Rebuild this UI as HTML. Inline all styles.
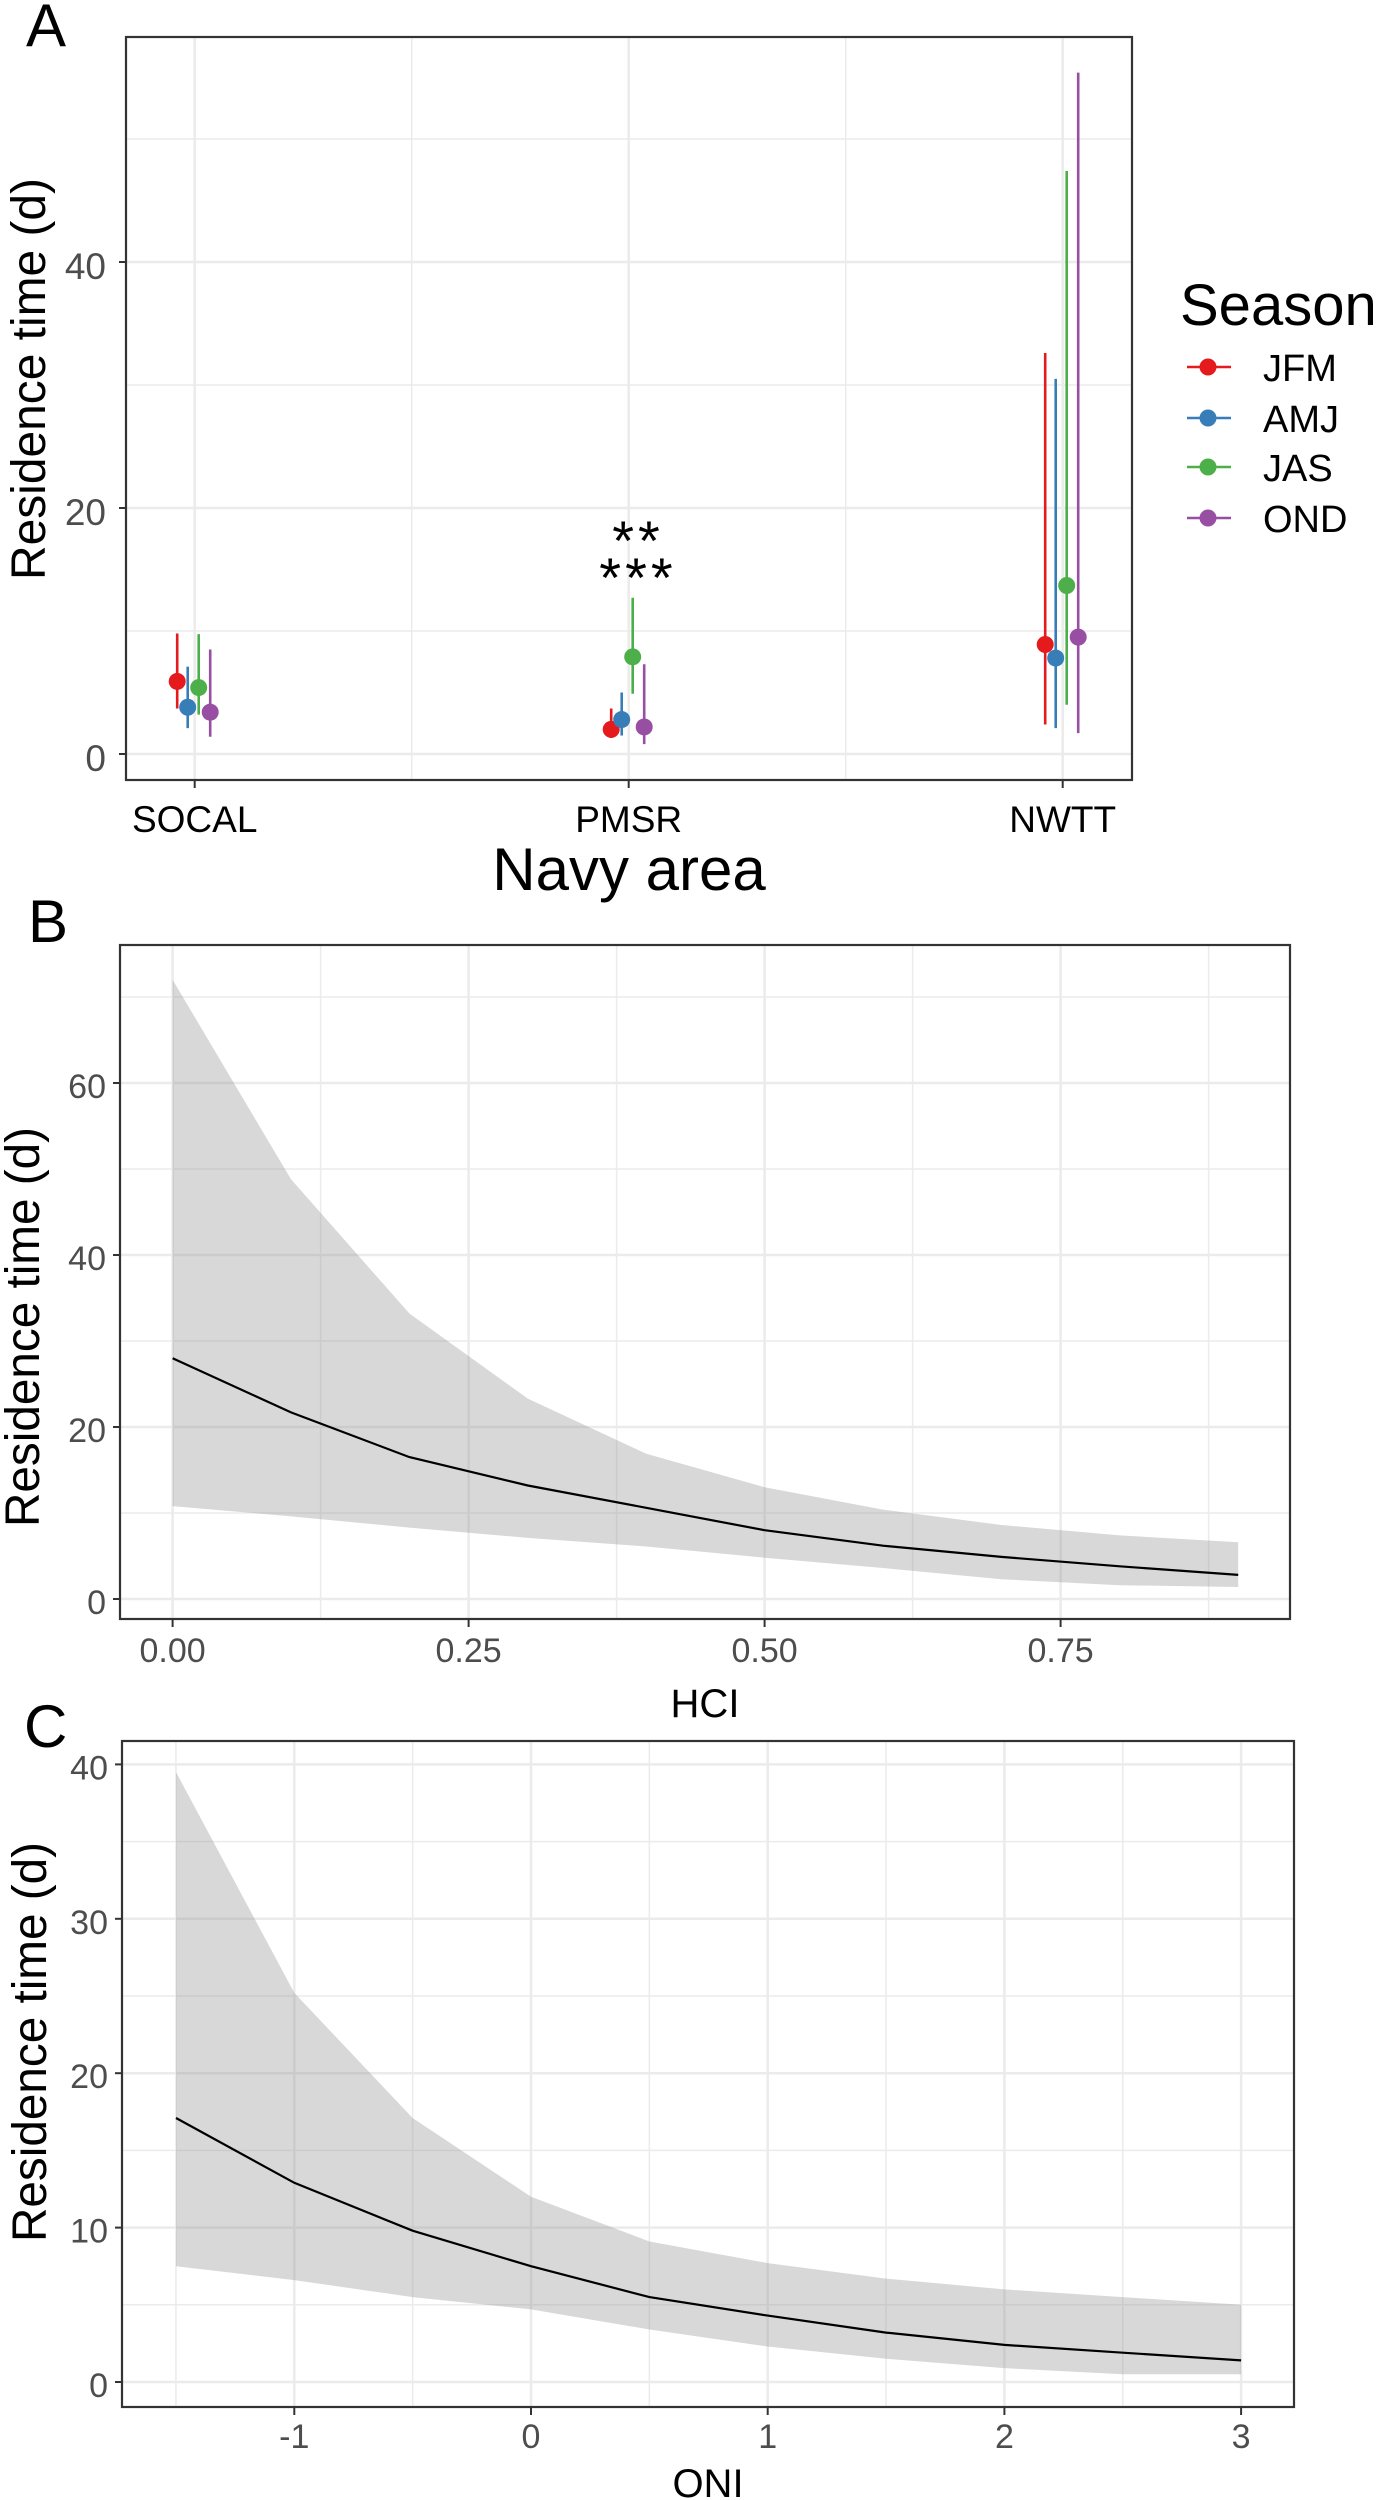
<!DOCTYPE html>
<html><head><meta charset="utf-8"><style>
html,body{margin:0;padding:0;background:#fff;}
svg{display:block;font-family:"Liberation Sans",Arial,sans-serif;}
</style></head><body>
<svg id="fig" width="1395" height="2500" viewBox="0 0 1395 2500" xmlns="http://www.w3.org/2000/svg">
<rect x="0" y="0" width="1395" height="2500" fill="#fff"/>
<g id="pA"></g>
<g id="pB"></g>
<g id="pC"></g>
</svg>
<script>
// ---------- Panel A data ----------
const areas = ["SOCAL", "PMSR", "NWTT"];
const seasons = ["JFM", "AMJ", "JAS", "OND"];
const seasonColors = ["#E41A1C", "#377EB8", "#4DAF4A", "#984EA3"];
const estJFM = [5.9, 2.0, 8.9];
const lowJFM = [3.7, 1.3, 2.4];
const highJFM = [9.8, 3.7, 32.6];
const estAMJ = [3.8, 2.8, 7.8];
const lowAMJ = [2.1, 1.5, 2.1];
const highAMJ = [7.1, 5.0, 30.5];
const estJAS = [5.4, 7.9, 13.7];
const lowJAS = [3.2, 4.9, 4.0];
const highJAS = [9.75, 12.7, 47.4];
const estOND = [3.4, 2.2, 9.5];
const lowOND = [1.4, 0.8, 1.7];
const highOND = [8.5, 7.3, 55.4];
const aTicks = [0, 20, 40];
const aMinor = [10, 30, 50];

// ---------- Panel B data ----------
const hciX = [0, 0.1, 0.2, 0.3, 0.4, 0.5, 0.6, 0.7, 0.8, 0.9];
const hciFit = [28, 21.7, 16.5, 13.2, 10.6, 8.0, 6.2, 4.9, 3.8, 2.8];
const hciUpper = [72, 48.8, 33.2, 23.3, 16.9, 13, 10.4, 8.6, 7.4, 6.6];
const hciLower = [10.8, 9.6, 8.3, 7.1, 6.1, 4.8, 3.6, 2.3, 1.6, 1.4];
const bYTicks = [0, 20, 40, 60];
const bYMinor = [10, 30, 50, 70];
const bXTicks = [0, 0.25, 0.5, 0.75];
const bXTickLabels = ["0.00", "0.25", "0.50", "0.75"];
const bXMinor = [0.125, 0.375, 0.625, 0.875];

// ---------- Panel C data ----------
const oniX = [-1.5, -1, -0.5, 0, 0.5, 1, 1.5, 2, 2.5, 3];
const oniFit = [17.1, 12.9, 9.8, 7.5, 5.5, 4.3, 3.2, 2.4, 1.9, 1.4];
const oniUpper = [39.5, 25.2, 17.1, 12.0, 9.1, 7.7, 6.7, 6.0, 5.5, 5.0];
const oniLower = [7.5, 6.6, 5.5, 4.7, 3.4, 2.3, 1.5, 0.9, 0.5, 0.5];
const cYTicks = [0, 10, 20, 30, 40];
const cYMinor = [5, 15, 25, 35];
const cXTicks = [-1, 0, 1, 2, 3];
const cXMinor = [-1.5, -0.5, 0.5, 1.5, 2.5];

const NS = "http://www.w3.org/2000/svg";
function mk(parent, tag, attrs, text) {
  const el = document.createElementNS(NS, tag);
  for (const k in attrs) el.setAttribute(k, attrs[k]);
  if (text !== undefined) el.textContent = text;
  parent.appendChild(el);
  return el;
}
const GRID = "#ebebeb";

// ===== Panel A =====
(function () {
  const g = document.getElementById("pA");
  const L = 126, R = 1132, T = 37, B = 780;
  const y = v => 754 - v * 12.3;
  const x = i => 194.7 + i * 434;
  let el;
  mk(g, "rect", { x: L, y: T, width: R - L, height: B - T, fill: "#fff" });
  aMinor.forEach(v => { el = mk(g, "line", { x1: L, x2: R, y1: y(v), y2: y(v), stroke: GRID, "stroke-width": 1.5 });
    
     });
  [0.5, 1.5].forEach(i => { el = mk(g, "line", { x1: x(i), x2: x(i), y1: T, y2: B, stroke: GRID, "stroke-width": 1.5 });
    
     });
  aTicks.forEach(v => {
    el = mk(g, "line", { x1: L, x2: R, y1: y(v), y2: y(v), stroke: GRID, "stroke-width": 2.5 });
    
    
    mk(g, "line", { x1: L - 7, x2: L, y1: y(v), y2: y(v), stroke: "#333", "stroke-width": 2 });
    el = mk(g, "text", { x: L - 20, y: y(v) + 17, "text-anchor": "end", "font-size": 37, fill: "#4d4d4d" }, String(v));
    
    
  });
  areas.forEach((a, i) => {
    el = mk(g, "line", { x1: x(i), x2: x(i), y1: T, y2: B, stroke: GRID, "stroke-width": 2.5 });
    
    
    mk(g, "line", { x1: x(i), x2: x(i), y1: B, y2: B + 8, stroke: "#333", "stroke-width": 2 });
    el = mk(g, "text", { x: x(i), y: 832, "text-anchor": "middle", "font-size": 37, fill: "#000" }, a);
    
    
  });
  const est = [estJFM, estAMJ, estJAS, estOND];
  const low = [lowJFM, lowAMJ, lowJAS, lowOND];
  const high = [highJFM, highAMJ, highJAS, highOND];
  const dodge = [-17.5, -7, 4, 15.5];
  seasons.forEach((s, si) => {
    areas.forEach((a, ai) => {
      const cx = x(ai) + dodge[si];
      el = mk(g, "line", { x1: cx, x2: cx, y1: y(low[si][ai]), y2: y(high[si][ai]), stroke: seasonColors[si], "stroke-width": 2.6 });
      
      
      el = mk(g, "circle", { cx: cx, cy: y(est[si][ai]), r: 8.5, fill: seasonColors[si] });
      
      
    });
  });
  mk(g, "rect", { x: L, y: T, width: R - L, height: B - T, fill: "none", stroke: "#333", "stroke-width": 2.2 });
  el = mk(g, "text", { x: 638, y: 560, "text-anchor": "middle", "font-size": 56, "letter-spacing": "4", fill: "#000" }, "**");
  
  
  el = mk(g, "text", { x: 638, y: 597, "text-anchor": "middle", "font-size": 56, "letter-spacing": "4", fill: "#000" }, "***");
  
  
  el = mk(g, "text", { x: 629, y: 890, "text-anchor": "middle", "font-size": 60, fill: "#000" }, "Navy area");
  
  
  el = mk(g, "text", { x: 0, y: 0, "text-anchor": "middle", "font-size": 48, fill: "#000", textLength: 402, lengthAdjust: "spacingAndGlyphs", transform: "translate(45,379) rotate(-90)" }, "Residence time (d)");
  
  
  el = mk(g, "text", { x: 26, y: 46, "font-size": 60, fill: "#000" }, "A");
  
  
  // legend
  el = mk(g, "text", { x: 1180, y: 325, "font-size": 58, fill: "#000" }, "Season");
  
  
  const ly = [367, 418, 467, 518];
  seasons.forEach((s, i) => {
    const lg = mk(g, "g", {});
    
    
    mk(lg, "line", { x1: 1187, x2: 1231, y1: ly[i], y2: ly[i], stroke: seasonColors[i], "stroke-width": 2.6 });
    mk(lg, "circle", { cx: 1208, cy: ly[i], r: 8.5, fill: seasonColors[i] });
    mk(lg, "text", { x: 1263, y: ly[i] + 14, "font-size": 38, fill: "#000" }, s);
  });
})();

// ===== generic ribbon panel =====
function ribbonPanel(gid, cfg) {
  const g = document.getElementById(gid);
  const { L, R, T, B, x, y } = cfg;
  let el;
  mk(g, "rect", { x: L, y: T, width: R - L, height: B - T, fill: "#fff" });
  cfg.yMinor.forEach(v => { if (y(v) > T) { el = mk(g, "line", { x1: L, x2: R, y1: y(v), y2: y(v), stroke: GRID, "stroke-width": 1.5 });
    
     } });
  cfg.xMinor.forEach(v => { el = mk(g, "line", { x1: x(v), x2: x(v), y1: T, y2: B, stroke: GRID, "stroke-width": 1.5 });
    
     });
  cfg.yTicks.forEach(v => {
    el = mk(g, "line", { x1: L, x2: R, y1: y(v), y2: y(v), stroke: GRID, "stroke-width": 2.5 });
    
    
    mk(g, "line", { x1: L - 7, x2: L, y1: y(v), y2: y(v), stroke: "#333", "stroke-width": 2 });
    el = mk(g, "text", { x: L - 14, y: y(v) + 15, "text-anchor": "end", "font-size": 34, fill: "#4d4d4d" }, String(v));
    
    
  });
  cfg.xTicks.forEach((v, i) => {
    el = mk(g, "line", { x1: x(v), x2: x(v), y1: T, y2: B, stroke: GRID, "stroke-width": 2.5 });
    
    
    mk(g, "line", { x1: x(v), x2: x(v), y1: B, y2: B + 8, stroke: "#333", "stroke-width": 2 });
    el = mk(g, "text", { x: x(v), y: cfg.tickBase, "text-anchor": "middle", "font-size": 34, fill: "#4d4d4d" }, cfg.xLabels[i]);
    
    
  });
  let d = "";
  cfg.xs.forEach((v, i) => { d += (i ? "L" : "M") + x(v).toFixed(1) + "," + y(cfg.up[i]).toFixed(1); });
  for (let i = cfg.xs.length - 1; i >= 0; i--) d += "L" + x(cfg.xs[i]).toFixed(1) + "," + y(cfg.lo[i]).toFixed(1);
  el = mk(g, "path", { d: d + "Z", fill: "#999", "fill-opacity": 0.38 });
  
  
  let ld = "";
  cfg.xs.forEach((v, i) => { ld += (i ? "L" : "M") + x(v).toFixed(1) + "," + y(cfg.fit[i]).toFixed(1); });
  el = mk(g, "path", { d: ld, fill: "none", stroke: "#000", "stroke-width": 2.2 });
  
  
  mk(g, "rect", { x: L, y: T, width: R - L, height: B - T, fill: "none", stroke: "#333", "stroke-width": 2.2 });
  el = mk(g, "text", { x: (L + R) / 2, y: cfg.titleBase, "text-anchor": "middle", "font-size": 40, fill: "#000" }, cfg.xTitle);
  
  
  el = mk(g, "text", { x: 0, y: 0, "text-anchor": "middle", "font-size": 48, fill: "#000", textLength: 400, lengthAdjust: "spacingAndGlyphs", transform: "translate(" + cfg.ytX + "," + cfg.ytY + ") rotate(-90)" }, "Residence time (d)");
  
  
  el = mk(g, "text", { x: cfg.lblX, y: cfg.lblY, "font-size": 60, fill: "#000" }, cfg.label);
  
  
}

ribbonPanel("pB", {
  L: 120, R: 1290, T: 945, B: 1619,
  x: v => 172.6 + v * 1184, y: v => 1599 - v * 8.6,
  yTicks: bYTicks, yMinor: bYMinor, xTicks: bXTicks, xLabels: bXTickLabels, xMinor: bXMinor,
  xs: hciX, fit: hciFit, up: hciUpper, lo: hciLower,
  tickBase: 1662, titleBase: 1717, xTitle: "HCI",
  ytX: 39, ytY: 1327, label: "B", lblX: 28, lblY: 942
});
ribbonPanel("pC", {
  L: 122, R: 1294, T: 1741, B: 2407,
  x: v => 531 + v * 236.7, y: v => 2382 - v * 15.44,
  yTicks: cYTicks, yMinor: cYMinor, xTicks: cXTicks, xLabels: cXTicks.map(String), xMinor: cXMinor,
  xs: oniX, fit: oniFit, up: oniUpper, lo: oniLower,
  tickBase: 2448, titleBase: 2497, xTitle: "ONI",
  ytX: 46, ytY: 2042, label: "C", lblX: 24, lblY: 1747
});
</script>
</body></html>
